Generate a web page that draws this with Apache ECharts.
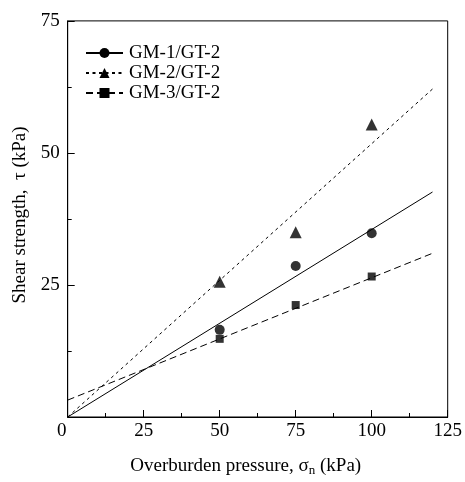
<!DOCTYPE html>
<html>
<head>
<meta charset="utf-8">
<script src="https://cdn.jsdelivr.net/npm/echarts@6/dist/echarts.min.js"></script>
<style>
html,body{margin:0;padding:0;background:#fff;}
#c{width:465px;height:482px;}
</style>
</head>
<body>
<div id="c"></div>
<script>
// Series names
const seriesNames = ['GM-1/GT-2', 'GM-2/GT-2', 'GM-3/GT-2'];
// Measured points (overburden pressure, kPa)
const pressures = [50, 75, 100];
const gm1Strength = [16.5, 28.6, 34.8];
const gm2Strength = [25.6, 35.0, 55.4];
const gm3Strength = [14.8, 21.2, 26.6];
// Fitted lines: x endpoints and y at those endpoints
const fitX = [0, 120];
const gm1Fit = [0, 42.6];
const gm2Fit = [0, 62.1];
const gm3Fit = [3.2, 31.0];
// Axis ticks
const xTicks = [0, 25, 50, 75, 100, 125];
const yTicks = [0, 25, 50, 75];

const FONT = "'Liberation Serif','Times New Roman',serif";
const pts = (ys) => pressures.map((x, i) => [x, ys[i]]);
const fit = (ys) => fitX.map((x, i) => [x, ys[i]]);

const chart = echarts.init(document.getElementById('c'), null, {renderer: 'canvas'});

const lineStyles = [
  {color: '#000', width: 1, type: 'solid'},
  {color: '#000', width: 1, type: [3, 3.5]},
  {color: '#000', width: 1, type: [7, 4]}
];
const symbols = ['circle', 'triangle', 'rect'];
const symSizes = [10, 12, 8];
const fits = [gm1Fit, gm2Fit, gm3Fit];
const data = [gm1Strength, gm2Strength, gm3Strength];

const series = [];
seriesNames.forEach((n, i) => {
  series.push({
    name: n,
    type: 'line',
    data: fit(fits[i]),
    symbol: symbols[i],
    showSymbol: false,
    lineStyle: lineStyles[i],
    itemStyle: {color: '#000'},
    silent: true,
    z: 2
  });
  series.push({
    name: n + ' data',
    type: 'scatter',
    data: pts(data[i]),
    symbol: symbols[i],
    symbolSize: symSizes[i],
    itemStyle: {color: '#000'},
    silent: true,
    z: 3
  });
});

chart.setOption({
  animation: false,
  backgroundColor: '#fff',
  grid: {left: 67.7, right: 17.3, top: 20.9, bottom: 63.9, show: true, borderColor: '#000', borderWidth: 1},
  legend: {
    data: seriesNames,
    orient: 'vertical',
    left: 85,
    top: 43,
    padding: 0,
    itemWidth: 37,
    itemHeight: 12.5,
    itemGap: 0,
    textStyle: {fontFamily: FONT, fontSize: 19, color: '#000', lineHeight: 20, padding: [0, 0, 0, 1]},
    selectedMode: false
  },
  xAxis: {
    type: 'value',
    min: xTicks[0],
    max: xTicks[xTicks.length - 1],
    interval: 25,
    name: 'Overburden pressure, σ{sub|n} (kPa)',
    nameLocation: 'middle',
    nameGap: 38,
    nameTextStyle: {
      fontFamily: FONT, fontSize: 19, color: '#000', lineHeight: 22, padding: [0, 24, 0, 0],
      rich: {sub: {fontFamily: FONT, fontSize: 13, color: '#000', lineHeight: 13, verticalAlign: 'bottom'}}
    },
    axisLine: {show: true, lineStyle: {color: '#000', width: 1}},
    axisTick: {show: true, inside: true, length: 7, lineStyle: {color: '#000'}},
    minorTick: {show: true, splitNumber: 2, length: 4, lineStyle: {color: '#000'}},
    splitLine: {show: false},
    axisLabel: {
      fontFamily: FONT, fontSize: 19, color: '#000', margin: 5,
      formatter: v => v === 0 ? '{z|0}' : String(v),
      rich: {z: {fontFamily: FONT, fontSize: 19, color: '#000', padding: [0, 12, 0, 0]}}
    }
  },
  yAxis: {
    type: 'value',
    min: yTicks[0],
    max: yTicks[yTicks.length - 1],
    interval: 25,
    name: 'Shear strength,  τ (kPa)',
    nameLocation: 'middle',
    nameRotate: 90,
    nameGap: 38,
    nameTextStyle: {fontFamily: FONT, fontSize: 19, color: '#000', padding: [0, 0, 0, 8]},
    axisLine: {show: true, lineStyle: {color: '#000', width: 1}},
    axisTick: {show: true, inside: true, length: 7, lineStyle: {color: '#000'}},
    minorTick: {show: true, splitNumber: 2, length: 4, lineStyle: {color: '#000'}},
    splitLine: {show: false},
    axisLabel: {
      fontFamily: FONT, fontSize: 19, color: '#000', margin: 8,
      formatter: v => v === 0 ? '' : String(v)
    }
  },
  series: series
});
</script>
</body>
</html>
